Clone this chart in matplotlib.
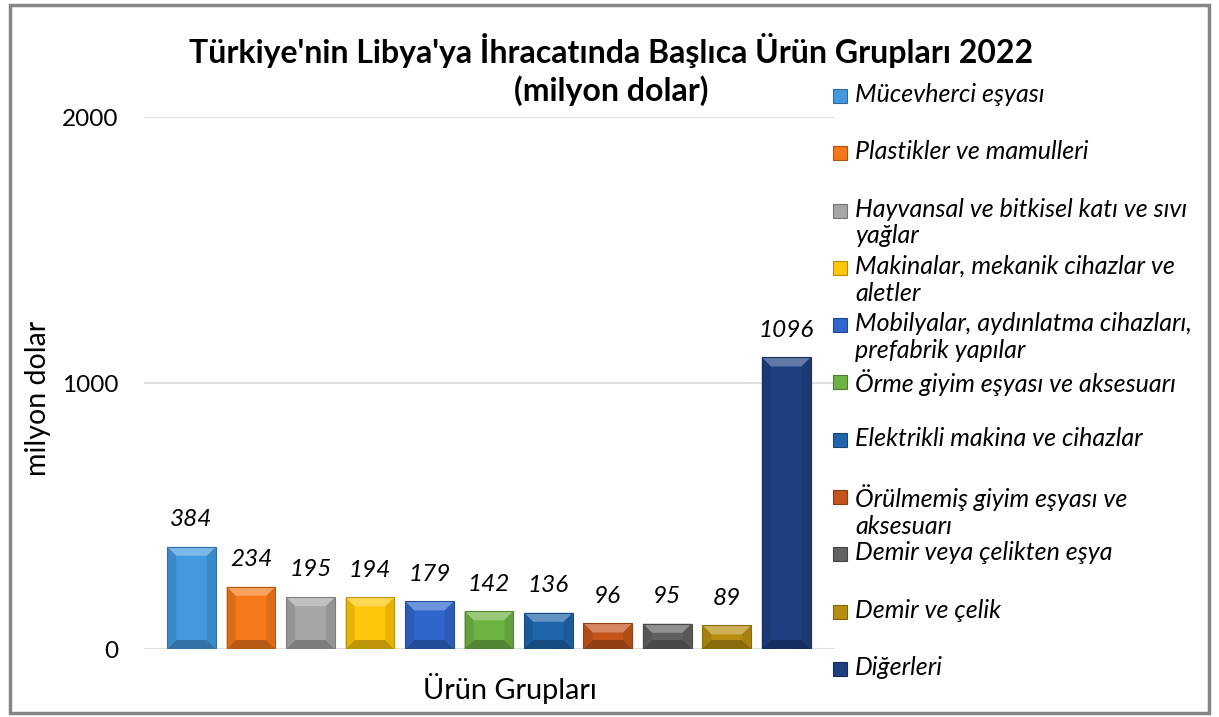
import matplotlib
matplotlib.use("Agg")
import matplotlib.pyplot as plt
from matplotlib.patches import Rectangle, Polygon
import matplotlib.colors as mcolors

plt.rcParams['font.family'] = ['Lato', 'DejaVu Sans']

categories = [
    "Mücevherci eşyası",
    "Plastikler ve mamulleri",
    "Hayvansal ve bitkisel katı ve sıvı\nyağlar",
    "Makinalar, mekanik cihazlar ve\naletler",
    "Mobilyalar, aydınlatma cihazları,\nprefabrik yapılar",
    "Örme giyim eşyası ve aksesuarı",
    "Elektrikli makina ve cihazlar",
    "Örülmemiş giyim eşyası ve\naksesuarı",
    "Demir veya çelikten eşya",
    "Demir ve çelik",
    "Diğerleri",
]
values = [384, 234, 195, 194, 179, 142, 136, 96, 95, 89, 1096]
colors = ["#4398DE", "#F7781A", "#A6A6A6", "#FFC70A", "#2F66CC", "#6DB343",
          "#1F65AA", "#C4541A", "#616161", "#B88E10", "#1E3F80"]
yticks = [0, 1000, 2000]

title_line1 = "Türkiye'nin Libya'ya İhracatında Başlıca Ürün Grupları 2022"
title_line2 = "(milyon dolar)"
xlabel = "Ürün Grupları"
ylabel = "milyon dolar"

W, H = 1219, 717
fig = plt.figure(figsize=(W / 100, H / 100), dpi=100)

# outer chart border
fig.patches.append(Rectangle((9.5 / W, 4.5 / H), (1209 - 9.5) / W, (712.5 - 4.5) / H,
                             transform=fig.transFigure, fill=False,
                             edgecolor="#868686", linewidth=2.5))

ax_l, ax_r, ax_t, ax_b = 144, 835, 117, 649
ax = fig.add_axes([ax_l / W, (H - ax_b) / H, (ax_r - ax_l) / W, (ax_b - ax_t) / H])
ax.set_xlim(-0.80, 10.82)
ax.set_ylim(0, 2000)
for s in ax.spines.values():
    s.set_visible(False)
ax.set_yticks(yticks)
ax.set_yticklabels([str(t) for t in yticks], fontsize=17.5)
ax.tick_params(axis='y', length=0, pad=18.5)
ax.set_xticks([])
ax.grid(axis='y', color="#D9D9D9", linewidth=1.2)
ax.set_axisbelow(True)

x = list(range(len(values)))
bw = 0.82
bars = ax.bar(x, values, width=bw, color=colors, zorder=2,
              edgecolor="none")

# bevel effect, size in pixels converted to data units
px_x = (10.82 + 0.80) / (ax_r - ax_l)
px_y = 2000 / (ax_b - ax_t)
bev = 9
dx, dy = bev * px_x, bev * px_y
for b, c in zip(bars, colors):
    x0, y0 = b.get_x(), b.get_y()
    w, h = b.get_width(), b.get_height()
    x1, y1 = x0 + w, y0 + h
    rgb = mcolors.to_rgb(c)
    light = tuple(min(1, v + (1 - v) * 0.3) for v in rgb)
    dark = tuple(v * 0.75 for v in rgb)
    side = tuple(v * 0.9 for v in rgb)
    bb = min(dy, h / 2)
    ax.add_patch(Polygon([(x0, y1), (x1, y1), (x1 - dx, y1 - bb), (x0 + dx, y1 - bb)],
                         closed=True, color=light, zorder=3, lw=0))
    ax.add_patch(Polygon([(x0, y0), (x1, y0), (x1 - dx, y0 + bb), (x0 + dx, y0 + bb)],
                         closed=True, color=dark, zorder=3, lw=0))
    ax.add_patch(Polygon([(x0, y0), (x0 + dx, y0 + bb), (x0 + dx, y1 - bb), (x0, y1)],
                         closed=True, color=side, zorder=3, lw=0))
    ax.add_patch(Polygon([(x1, y0), (x1 - dx, y0 + bb), (x1 - dx, y1 - bb), (x1, y1)],
                         closed=True, color=side, zorder=3, lw=0))
    ax.add_patch(Rectangle((x0, y0), w, h, fill=False, edgecolor=dark, lw=0.8, zorder=4))

ax.bar_label(bars, labels=[str(v) for v in values], padding=12, fontsize=17.5,
             fontstyle='italic')

fig.text(611 / W, 1 - 50 / H, title_line1, ha='center', va='center', fontsize=23,
         fontweight='bold')
fig.text(611 / W, 1 - 91 / H, title_line2, ha='center', va='center', fontsize=23,
         fontweight='bold')
fig.text(510 / W, 1 - 688 / H, xlabel, ha='center', va='center', fontsize=20.8)
fig.text(38 / W, 1 - 398 / H, ylabel, ha='center', va='center', fontsize=20.5,
         rotation=90)

# legend (evenly spaced entries, like the original)
leg_y0, leg_step = 96, 57.3
for i, (lab, c) in enumerate(zip(categories, colors)):
    yc = leg_y0 + i * leg_step
    fig.patches.append(Rectangle((833 / W, 1 - (yc + 7) / H), 14 / W, 14 / H,
                                 transform=fig.transFigure, facecolor=c,
                                 edgecolor=tuple(v * 0.7 for v in mcolors.to_rgb(c)),
                                 lw=0.8))
    fig.text(855 / W, 1 - (yc - 13) / H, lab, ha='left', va='top', fontsize=18,
             fontstyle='italic', linespacing=1.2)

fig.savefig("out.png", dpi=100)
